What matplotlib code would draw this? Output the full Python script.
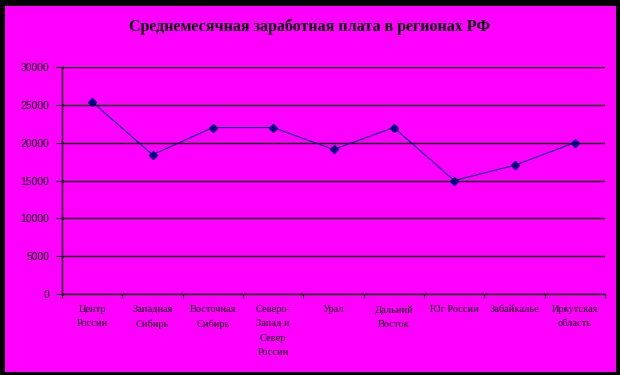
import matplotlib
matplotlib.use("Agg")
import matplotlib.pyplot as plt
from matplotlib.patches import Rectangle

# data
regions = ["Центр\nРоссии", "Западная\nСибирь", "Восточная\nСибирь",
           "Северо-\nЗапад и\nСевер\nРоссии", "Урал", "Дальний\nВосток",
           "Юг России", "Забайкалье", "Иркутская\nобласть"]
salary = [25400, 18400, 22000, 22000, 19100, 22000, 15000, 17000, 20000]
y_ticks = [0, 5000, 10000, 15000, 20000, 25000, 30000]

W, H = 620, 375
fig = plt.figure(figsize=(W / 100, H / 100), dpi=100, facecolor="black")

# magenta chart area inside the black frame
fig.patches.append(Rectangle((5 / W, 1 - 372 / H), (616 - 5) / W, (372 - 6) / H,
                             transform=fig.transFigure, facecolor="#FF00FF",
                             edgecolor="none", zorder=-5))

ax = fig.add_axes([62 / W, 1 - 294 / H, (605 - 62) / W, (294 - 67) / H])
ax.set_facecolor("#FF00FF")

x = list(range(len(regions)))
ax.plot(x, salary, color="#000080", lw=0.8, marker="D", markersize=4,
        markerfacecolor="#000080", markeredgecolor="#000080", zorder=3)

ax.set_xlim(-0.5, len(regions) - 0.5)
ax.set_ylim(0, 30000)
ax.set_yticks(y_ticks)
ax.set_yticklabels([str(v) for v in y_ticks], fontsize=7.5,
                   family="Liberation Sans")
ax.yaxis.grid(True, color="black", lw=1)
ax.set_axisbelow(True)

# category ticks sit between points
ax.set_xticks([i - 0.5 for i in range(len(regions) + 1)], minor=False)
ax.set_xticklabels([])
ax.set_xticks(x, minor=True)
ax.set_xticklabels(regions, minor=True, fontsize=7.5, family="Liberation Serif",
                   linespacing=1.75, va="top", multialignment="center")
ax.tick_params(axis="x", which="minor", length=0, pad=8)
ax.tick_params(axis="x", which="major", length=3, direction="out", color="black")
ax.tick_params(axis="y", length=4, direction="out", color="black", pad=5)

for side in ["top", "right"]:
    ax.spines[side].set_visible(False)
for side in ["left", "bottom"]:
    ax.spines[side].set_color("black")
    ax.spines[side].set_linewidth(1)

fig.text(310 / W, 1 - 27 / H, "Среднемесячная заработная плата в регионах РФ",
         ha="center", va="center", fontsize=11.5, fontweight="bold",
         family="Liberation Serif")

fig.savefig("out.png", dpi=100, facecolor="black")
